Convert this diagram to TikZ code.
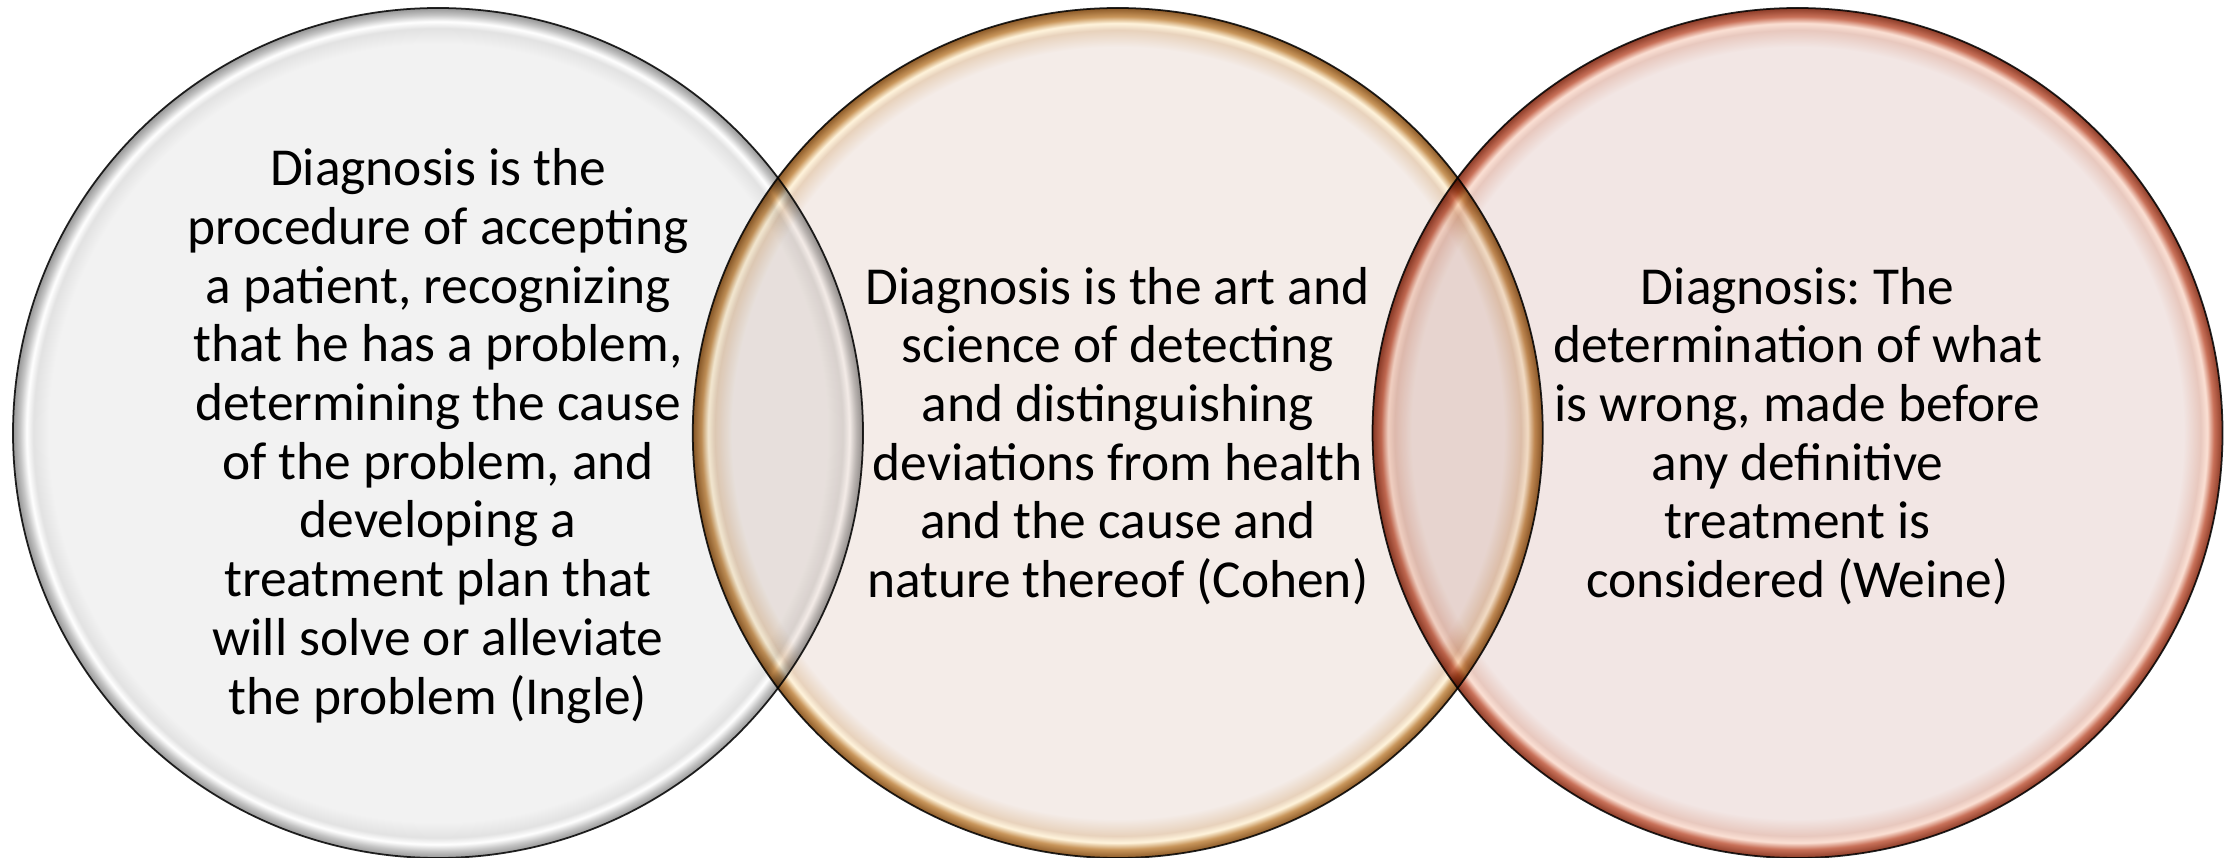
\documentclass[tikz,border=0pt]{standalone}
\usepackage{fontspec}
\setmainfont{Carlito}
\usepackage{tikz}
\usetikzlibrary{positioning}
\frenchspacing
\definecolor{diagGrayFill}{RGB}{242, 242, 242}
\definecolor{diagGrayTint}{RGB}{226, 226, 226}
\definecolor{diagGrayRim}{RGB}{196, 196, 196}
\definecolor{diagGrayDark}{RGB}{150, 150, 150}
\definecolor{diagGoldFill}{RGB}{244, 236, 232}
\definecolor{diagGoldTint}{RGB}{232, 210, 188}
\definecolor{diagGoldLight}{RGB}{255, 244, 220}
\definecolor{diagGoldRim}{RGB}{200, 149, 90}
\definecolor{diagGoldDark}{RGB}{140, 90, 40}
\definecolor{diagRedFill}{RGB}{242, 230, 228}
\definecolor{diagRedTint}{RGB}{232, 200, 190}
\definecolor{diagRedLight}{RGB}{251, 224, 212}
\definecolor{diagRedRim}{RGB}{200, 112, 88}
\definecolor{diagRedDark}{RGB}{140, 60, 40}
\pgfdeclareradialshading{glassgray}{\pgfpoint{0bp}{0bp}}{%
  color(0bp)=(diagGrayFill); color(22.9bp)=(diagGrayFill);
  color(23.8bp)=(diagGrayTint); color(24.2bp)=(white);
  color(24.6bp)=(diagGrayRim); color(25bp)=(diagGrayDark);
  color(50bp)=(diagGrayDark)}
\pgfdeclareradialshading{glassgold}{\pgfpoint{0bp}{0bp}}{%
  color(0bp)=(diagGoldFill); color(22.7bp)=(diagGoldFill);
  color(23.7bp)=(diagGoldTint); color(24.1bp)=(diagGoldLight);
  color(24.5bp)=(diagGoldRim); color(25bp)=(diagGoldDark);
  color(50bp)=(diagGoldDark)}
\pgfdeclareradialshading{glassred}{\pgfpoint{0bp}{0bp}}{%
  color(0bp)=(diagRedFill); color(22.7bp)=(diagRedFill);
  color(23.7bp)=(diagRedTint); color(24.1bp)=(diagRedLight);
  color(24.5bp)=(diagRedRim); color(25bp)=(diagRedDark);
  color(50bp)=(diagRedDark)}
\begin{document}
\begin{tikzpicture}[
  glass/.style={
    circle,
    shade,
    draw=black!85,
    line width=0.5pt,
    minimum size=8.5cm,
    inner sep=0pt
  },
  deftext/.style={
    align=center,
    font=\fontsize{15.2}{16.7}\selectfont
  }
]
  \useasboundingbox (0,0) rectangle (22.29,8.57);
  \begin{scope}[blend group=multiply]
    \node[glass,shading=glassgray] (ingle) at (4.38,4.24) {};
    \node[glass,shading=glassgold,right=-1.72cm of ingle] (cohen) {};
    \node[glass,shading=glassred,right=-1.72cm of cohen] (weine) {};
  \end{scope}
  \node[deftext] (ingletext) at ([yshift=-0.03cm]ingle.center)
    {Diagnosis is the\\procedure of accepting\\a patient, recognizing\\that he has a problem,\\determining the cause\\of the problem, and\\developing a\\treatment plan that\\will solve or alleviate\\the problem (Ingle)};
  \node[deftext] (cohentext) at ([yshift=-0.03cm]cohen.center)
    {Diagnosis is the art and\\science of detecting\\and distinguishing\\deviations from health\\and the cause and\\nature thereof (Cohen)};
  \node[deftext] (weinetext) at ([yshift=-0.03cm]weine.center)
    {Diagnosis: The\\determination of what\\is wrong, made before\\any definitive\\treatment is\\considered (Weine)};
\end{tikzpicture}
\end{document}
